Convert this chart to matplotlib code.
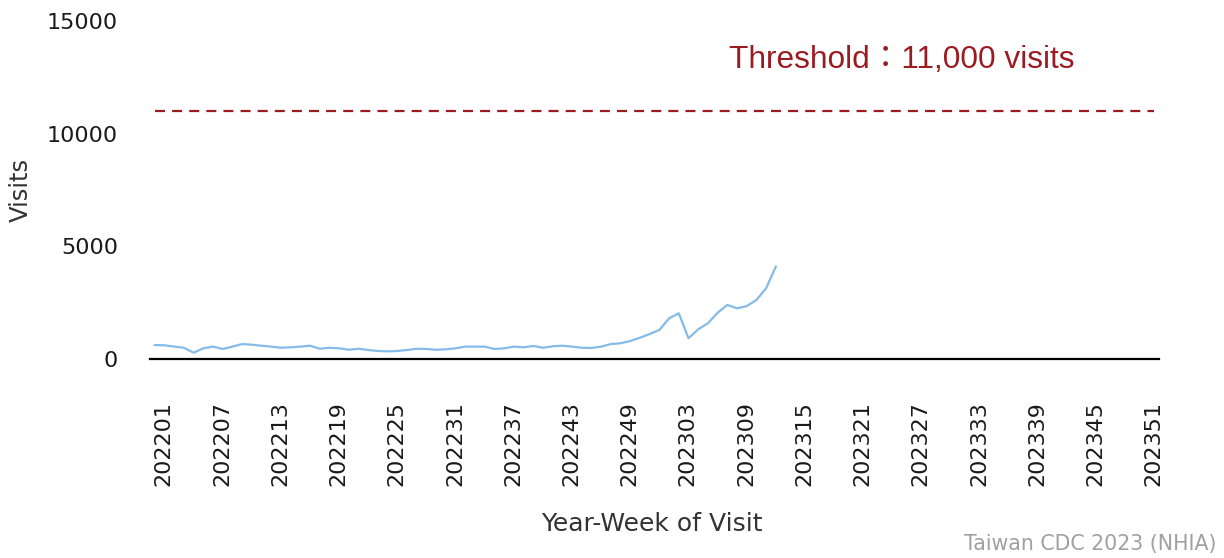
import matplotlib
matplotlib.use("Agg")
import matplotlib.pyplot as plt
import matplotlib.transforms as mtransforms

# ---- data ----
years = [2022, 2023]
weeks_per_year = 52
week_labels = [f"{y}{w:02d}" for y in years for w in range(1, weeks_per_year + 1)]

visits = [620, 610, 550, 500, 280, 475, 550, 445, 550, 665,
          635, 590, 550, 500, 520, 550, 590, 455, 500, 475,
          410, 455, 400, 355, 340, 355, 400, 455, 445, 410,
          430, 475, 550, 550, 550, 445, 475, 550, 520, 580,
          500, 565, 590, 550, 500, 490, 550, 665, 700, 800,
          945, 1110, 1290, 1805, 2030, 920, 1320, 1585, 2055, 2400,
          2250, 2350, 2620, 3140, 4100]

threshold = 11000
threshold_text = "Threshold：11,000 visits"
y_ticks = [0, 5000, 10000, 15000]
tick_step = 6
source_text = "Taiwan CDC 2023 (NHIA)"

# ---- figure ----
fig = plt.figure(figsize=(12.24, 5.58), dpi=100)
ax = fig.add_axes([0.1225, 0.3566, 0.8245, 0.6058])

x_all = list(range(len(week_labels)))
x_data = x_all[:len(visits)]

ax.plot(x_all, [threshold] * len(x_all), color="#9b1b22", lw=1.6,
        dashes=(4.5, 3.2))
ax.plot(x_data, visits, color="#86bbe8", lw=1.6)

ax.set_xlim(-0.5, len(week_labels) - 0.5)
ax.set_ylim(0, 15000)

ax.set_yticks(y_ticks)
ax.set_yticklabels([str(v) for v in y_ticks])
tick_pos = x_all[::tick_step]
ax.set_xticks(tick_pos)
ax.set_xticklabels([week_labels[i] for i in tick_pos], rotation=90)

ax.tick_params(axis="both", length=0, labelsize=16, colors="#1a1a1a")
ax.tick_params(axis="y", pad=23)
ax.tick_params(axis="x", pad=30)

offset = mtransforms.ScaledTranslation(0.09, 0, fig.dpi_scale_trans)
for lab in ax.get_xticklabels():
    lab.set_transform(lab.get_transform() + offset)

for side in ["top", "right", "left"]:
    ax.spines[side].set_visible(False)
ax.spines["bottom"].set_color("black")
ax.spines["bottom"].set_linewidth(1.6)

ax.set_ylabel("Visits", fontsize=17.5, color="#333333")
ax.yaxis.set_label_coords(-0.116, 0.5)
ax.set_xlabel("Year-Week of Visit", fontsize=18, color="#333333")
ax.xaxis.set_label_coords(0.497, -0.452)

fig.text(0.7365, 0.893, threshold_text, color="#9b1b22", fontsize=22.8,
         family=["Liberation Sans", "Noto Sans CJK TC"], ha="center", va="center")
fig.text(0.994, 0.025, source_text, color="#a0a0a0", fontsize=14.8,
         ha="right", va="center")

fig.savefig("out.png", dpi=100)
